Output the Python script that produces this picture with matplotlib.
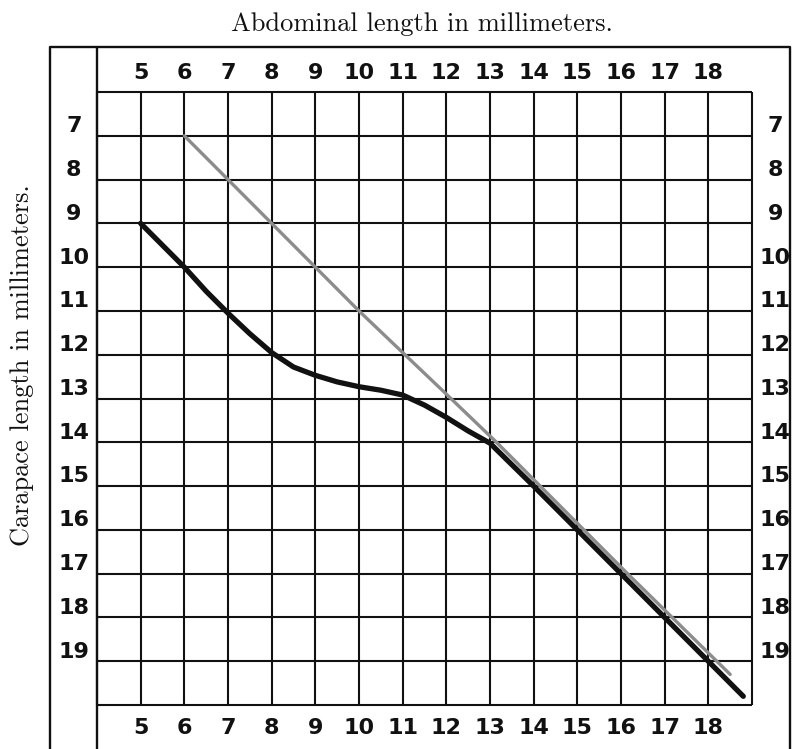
import matplotlib.pyplot as plt

# axis values (mm)
abdominal_ticks = [5, 6, 7, 8, 9, 10, 11, 12, 13, 14, 15, 16, 17, 18]
carapace_ticks = [7, 8, 9, 10, 11, 12, 13, 14, 15, 16, 17, 18, 19]

obs_x = [5, 6, 6.5, 7, 7.5, 8, 8.5, 9, 9.5, 10, 10.5, 11, 11.5, 12, 12.5, 13,
         14, 15, 16, 17, 18, 18.8]
obs_y = [9, 10, 10.55, 11.05, 11.52, 11.95, 12.28, 12.47, 12.62, 12.73, 12.81,
         12.92, 13.15, 13.43, 13.74, 14.02, 15, 16, 17, 18, 19, 19.8]

# reference line (grey)
ref_x = [6, 10, 11, 12, 13.15, 16.15, 18.5]
ref_y = [7, 11, 11.95, 12.9, 14, 17, 19.3]

plt.rcParams['font.family'] = 'DejaVu Sans'

fig = plt.figure(figsize=(7.94, 7.49), dpi=100)
ax = fig.add_axes([0, 0, 1, 1])
ax.set_xlim(1.779, 19.961)
ax.set_ylim(21.003, 3.899)
ax.axis('off')

ink = '#111111'

# outer frame and inner left rule
ax.plot([2.92, 2.92, 19.87, 19.87], [21.2, 4.97, 4.97, 21.2], color=ink, lw=1.7, clip_on=False)
ax.vlines(4, 4.97, 21.2, color=ink, lw=1.7)

# grid
ax.vlines(range(4, 20), 6, 20, color=ink, lw=1.5)
ax.hlines(range(6, 21), 4, 19, color=ink, lw=1.5)

# curves
ax.plot(ref_x, ref_y, color='#8c8c8c', lw=2.4, solid_capstyle='round')
ax.plot(obs_x, obs_y, color=ink, lw=3.8, solid_capstyle='round', solid_joinstyle='round')

# tick labels
lab = dict(ha='center', va='center', fontsize=16, fontweight='bold', color=ink)
for v in abdominal_ticks:
    ax.text(v, 5.57, str(v), **lab)
    ax.text(v, 20.52, str(v), **lab)
for v in carapace_ticks:
    ax.text(3.47, v - 0.22, str(v), **lab)
    ax.text(19.53, v - 0.22, str(v), **lab)

ax.text(11.44, 4.45, 'Abdominal length in millimeters.', ha='center', va='center',
        fontsize=19, family='cmr10', color=ink)
ax.text(2.28, 12.23, 'Carapace length in millimeters.', ha='center', va='center',
        rotation=90, fontsize=19, family='cmr10', color=ink)

fig.savefig('out.png', dpi=100)
